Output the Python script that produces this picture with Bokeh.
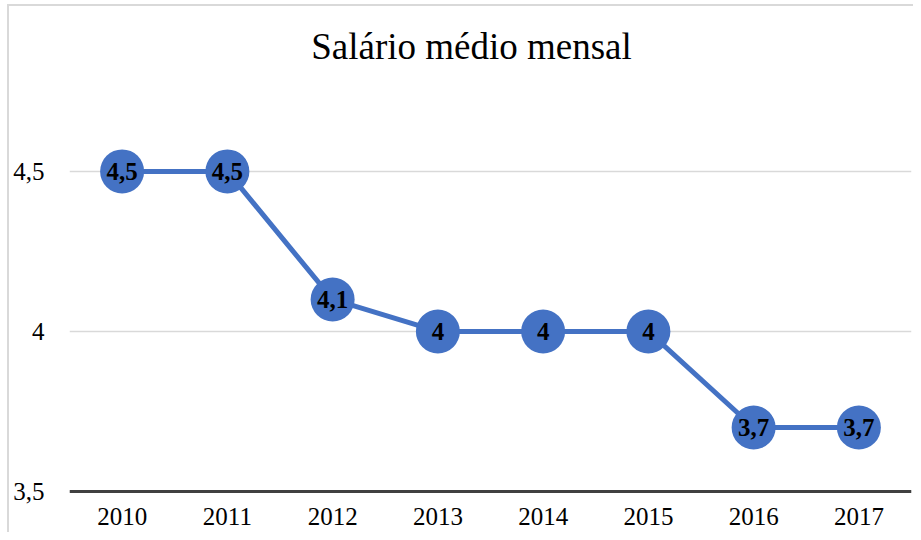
from bokeh.plotting import figure
from bokeh.models import (ColumnDataSource, FactorRange, Range1d, FixedTicker,
                          CustomJSTickFormatter, Label)
from bokeh.core.properties import value
from bokeh.embed import file_html
from bokeh.resources import INLINE

years = ["2010", "2011", "2012", "2013", "2014", "2015", "2016", "2017"]
salario = [4.5, 4.5, 4.1, 4.0, 4.0, 4.0, 3.7, 3.7]
rotulos = ["4,5", "4,5", "4,1", "4", "4", "4", "3,7", "3,7"]
y_ticks = [3.5, 4.0, 4.5]
y_axis_min = 3.5
titulo = "Salário médio mensal"

SERIF = "Liberation Serif"
BLUE = "#4472C4"
BORDER = "#d9d9d9"

src = ColumnDataSource(data=dict(x=years, y=salario, lab=rotulos))

p = figure(
    width=913, height=532,
    x_range=FactorRange(*years, range_padding=0),
    y_range=Range1d(3.375, 5.034),
    output_backend="svg", toolbar_location=None,
    min_border_left=69, min_border_right=2, min_border_top=0, min_border_bottom=1,
    background_fill_color=None, border_fill_color=None,
)
# chart-area border (left and top edges) painted behind a transparent canvas
p.styles = {
    "background": (
        f"linear-gradient({BORDER}, {BORDER}) 7px 4px / 2px calc(100% - 4px) no-repeat, "
        f"linear-gradient({BORDER}, {BORDER}) 7px 4px / calc(100% - 7px) 2px no-repeat, "
        "#ffffff"
    )
}
p.outline_line_color = None

p.xgrid.grid_line_color = None
p.ygrid.ticker = FixedTicker(ticks=y_ticks)
p.ygrid.grid_line_color = "#d9d9d9"
p.ygrid.grid_line_width = 1.3

p.yaxis.ticker = FixedTicker(ticks=y_ticks)
p.yaxis.formatter = CustomJSTickFormatter(code="return tick.toString().replace('.', ',');")
p.yaxis.axis_line_color = None
p.yaxis.major_tick_line_color = None
p.yaxis.minor_tick_line_color = None
p.yaxis.major_tick_out = 0
p.yaxis.major_label_standoff = 25
p.yaxis.major_label_text_font = SERIF
p.yaxis.major_label_text_font_size = "25px"
p.yaxis.major_label_text_color = "#000000"

p.xaxis.fixed_location = y_axis_min
p.xaxis.axis_line_color = "#404040"
p.xaxis.axis_line_width = 3
p.xaxis.major_tick_line_color = None
p.xaxis.minor_tick_line_color = None
p.xaxis.major_tick_out = 0
p.xaxis.major_label_standoff = 17
p.xaxis.major_label_text_font = SERIF
p.xaxis.major_label_text_font_size = "25px"
p.xaxis.major_label_text_color = "#000000"

p.line("x", "y", source=src, line_width=5, line_color=BLUE)
p.scatter("x", "y", source=src, marker="circle", size=44, fill_color=BLUE, line_color=None)
p.text("x", "y", text="lab", source=src, text_align="center", text_baseline="middle",
       text_font=value(SERIF), text_font_style="bold", text_font_size="25px", text_color="#000000")

p.add_layout(Label(x=402, y=485, x_units="screen", y_units="screen", text=titulo,
                   text_align="center", text_baseline="middle",
                   text_font=SERIF, text_font_size="37px", text_color="#000000"))

open("out.html", "w").write(file_html(p, INLINE))
